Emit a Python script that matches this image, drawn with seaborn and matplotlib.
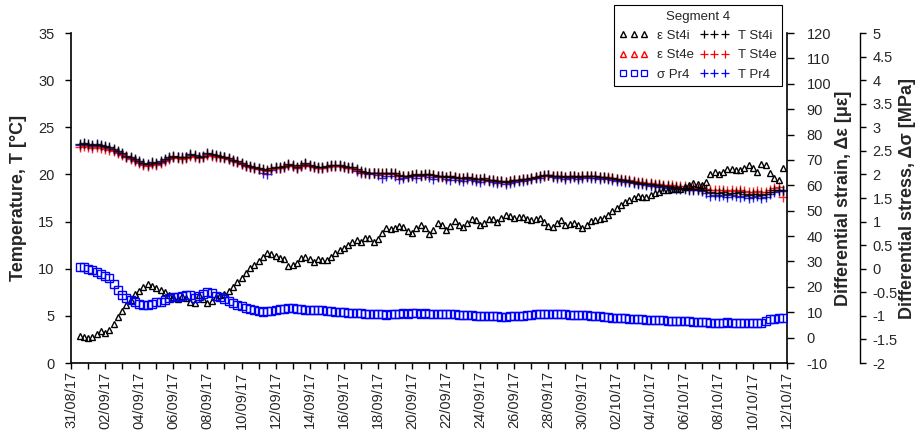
import matplotlib
matplotlib.use("Agg")
import matplotlib.pyplot as plt
import matplotlib.dates as mdates
from matplotlib.lines import Line2D
from matplotlib.ticker import FuncFormatter, FixedLocator, MultipleLocator
import pandas as pd
import seaborn as sns

###############################################################################
# data, one value every 6 h from 31/08/17 12:00

start = "2017-08-31 12:00"

# differential strain, ε St4i [με]
eps_st4i = [0.5, 0.2,
    -0.3, 0.3, 1.5, 2.5,
    2.0, 3.0, 5.5, 8.0,
    10.5, 12.8, 15.0, 17.0,
    18.5, 20.0, 21.3, 20.5,
    19.5, 18.8, 17.8, 16.8,
    16.0, 15.3, 16.5, 15.5,
    14.0, 13.5, 16.8, 15.2,
    13.5, 14.5, 16.1, 16.8,
    17.3, 18.5, 20.0, 21.8,
    23.5, 25.3, 27.5, 28.5,
    30.0, 31.8, 33.2, 32.8,
    32.0, 31.5, 30.8, 28.2,
    28.6, 29.3, 31.2, 31.9,
    31.0, 29.9, 30.9, 30.4,
    30.6, 31.9, 33.5, 34.5,
    35.3, 36.5, 37.8, 38.3,
    37.5, 39.1, 39.4, 37.8,
    38.8, 41.2, 43.2, 42.6,
    43.2, 43.9, 43.6, 42.0,
    41.1, 43.0, 44.3, 43.0,
    40.8, 42.5, 45.3, 44.5,
    42.4, 43.8, 45.8, 44.2,
    43.4, 45.0, 46.8, 46.2,
    44.5, 45.2, 46.6, 46.8,
    45.7, 47.2, 48.3, 48.0,
    47.0, 47.4, 47.5, 46.8,
    46.3, 46.8, 47.0, 45.5,
    44.0, 43.4, 45.2, 46.2,
    44.4, 44.6, 45.2, 44.2,
    43.2, 44.4, 46.0, 46.5,
    46.6, 47.2, 48.4, 50.0,
    51.2, 52.2, 53.3, 54.2,
    55.0, 55.6, 55.4, 55.5,
    56.0, 56.9, 57.4, 58.0,
    58.3, 58.4, 58.5, 58.7,
    59.2, 60.0, 60.8, 60.4,
    60.0, 61.5, 64.5, 65.2,
    64.4, 65.2, 66.5, 66.6,
    66.0, 65.9, 66.8, 68.0,
    66.8, 65.3, 68.3, 68.2,
    64.7, 62.7, 62.2, 66.7]

# differential stress, σ Pr4 [MPa]
sig_pr4 = [0.04, 0.03,
    0.00, -0.03, -0.06, -0.12,
    -0.15, -0.19, -0.32, -0.45,
    -0.55, -0.62, -0.67, -0.71,
    -0.74, -0.76, -0.77, -0.74,
    -0.71, -0.70, -0.66, -0.62,
    -0.60, -0.59, -0.58, -0.56,
    -0.55, -0.62, -0.58, -0.53,
    -0.49, -0.52, -0.57, -0.61,
    -0.65, -0.69, -0.73, -0.77,
    -0.80, -0.83, -0.86, -0.88,
    -0.90, -0.91, -0.90, -0.89,
    -0.88, -0.86, -0.85, -0.84,
    -0.84, -0.85, -0.86, -0.87,
    -0.88, -0.88, -0.87, -0.88,
    -0.89, -0.90, -0.91, -0.91,
    -0.92, -0.93, -0.93, -0.94,
    -0.94, -0.95, -0.95, -0.95,
    -0.95, -0.96, -0.98, -0.97,
    -0.96, -0.95, -0.94, -0.96,
    -0.93, -0.94, -0.95, -0.93,
    -0.95, -0.95, -0.96, -0.95,
    -0.96, -0.97, -0.97, -0.98,
    -0.98, -0.99, -0.99, -1.00,
    -1.00, -1.00, -1.01, -1.01,
    -1.01, -1.02, -1.02, -1.01,
    -1.01, -1.00, -1.00, -0.99,
    -0.98, -0.97, -0.96, -0.95,
    -0.95, -0.96, -0.96, -0.97,
    -0.97, -0.98, -0.98, -0.98,
    -0.99, -0.99, -1.00, -1.00,
    -1.01, -1.02, -1.03, -1.04,
    -1.04, -1.05, -1.05, -1.06,
    -1.06, -1.07, -1.07, -1.08,
    -1.08, -1.09, -1.09, -1.09,
    -1.10, -1.10, -1.10, -1.11,
    -1.11, -1.11, -1.12, -1.13,
    -1.13, -1.14, -1.15, -1.15,
    -1.15, -1.15, -1.14, -1.15,
    -1.15, -1.16, -1.16, -1.16,
    -1.16, -1.16, -1.15, -1.10,
    -1.07, -1.06, -1.05, -1.05]

# temperature T St4i [°C]
t_st4i = [23.2, 23.3,
    23.2, 23.1, 23.2, 23.1,
    23.0, 22.9, 22.7, 22.5,
    22.3, 22.0, 21.8, 21.6,
    21.4, 21.2, 21.1, 21.3,
    21.2, 21.4, 21.6, 21.8,
    22.0, 21.9, 21.8, 21.9,
    22.2, 22.1, 21.9, 22.0,
    22.3, 22.2, 22.1, 22.0,
    21.9, 21.7, 21.5, 21.4,
    21.2, 21.0, 20.9, 20.8,
    20.7, 20.6, 20.5, 20.7,
    20.8, 20.8, 20.9, 21.1,
    21.0, 20.8, 21.0, 21.2,
    21.0, 20.9, 20.8, 20.8,
    20.9, 21.0, 21.0, 21.0,
    20.9, 20.8, 20.8, 20.6,
    20.4, 20.3, 20.2, 20.2,
    20.1, 20.1, 20.2, 20.2,
    20.1, 19.9, 19.8, 19.8,
    19.9, 20.0, 19.9, 20.0,
    20.0, 19.9, 19.8, 19.8,
    19.7, 19.8, 19.7, 19.6,
    19.6, 19.7, 19.6, 19.5,
    19.5, 19.6, 19.4, 19.4,
    19.3, 19.3, 19.2, 19.3,
    19.4, 19.4, 19.5, 19.5,
    19.6, 19.7, 19.8, 19.9,
    19.9, 19.8, 19.8, 19.8,
    19.7, 19.8, 19.8, 19.7,
    19.8, 19.8, 19.8, 19.8,
    19.7, 19.7, 19.6, 19.6,
    19.5, 19.4, 19.4, 19.3,
    19.2, 19.1, 19.1, 19.0,
    19.0, 18.9, 18.9, 18.8,
    18.8, 18.7, 18.7, 18.6,
    18.6, 18.5, 18.5, 18.5,
    18.4, 18.3, 18.1, 18.0,
    18.0, 18.1, 17.9, 18.0,
    18.0, 18.1, 17.9, 17.8,
    17.9, 17.9, 17.8, 17.9,
    18.1, 18.3, 18.4, 18.4]

# temperature T St4e [°C]
t_st4e = [22.9, 23.0,
    22.9, 22.8, 22.9, 22.8,
    22.7, 22.6, 22.5, 22.3,
    22.1, 21.8, 21.6, 21.4,
    21.2, 21.0, 20.9, 21.1,
    21.0, 21.2, 21.4, 21.6,
    21.8, 21.7, 21.6, 21.7,
    22.0, 21.9, 21.7, 21.8,
    22.1, 22.0, 21.9, 21.8,
    21.7, 21.6, 21.4, 21.3,
    21.1, 20.9, 20.8, 20.7,
    20.6, 20.5, 20.4, 20.6,
    20.7, 20.7, 20.8, 21.0,
    20.9, 20.7, 20.9, 21.1,
    20.9, 20.8, 20.7, 20.7,
    20.8, 20.9, 20.9, 20.9,
    20.8, 20.7, 20.7, 20.5,
    20.3, 20.2, 20.2, 20.1,
    20.1, 20.0, 20.1, 20.1,
    20.0, 19.8, 19.8, 19.8,
    19.9, 19.9, 19.9, 19.9,
    19.9, 19.9, 19.8, 19.7,
    19.7, 19.8, 19.7, 19.6,
    19.6, 19.6, 19.6, 19.5,
    19.5, 19.5, 19.4, 19.4,
    19.3, 19.3, 19.2, 19.3,
    19.4, 19.4, 19.5, 19.5,
    19.6, 19.7, 19.8, 19.8,
    19.9, 19.8, 19.8, 19.8,
    19.7, 19.8, 19.8, 19.7,
    19.8, 19.8, 19.8, 19.8,
    19.7, 19.7, 19.7, 19.6,
    19.5, 19.5, 19.4, 19.4,
    19.3, 19.2, 19.2, 19.1,
    19.1, 19.0, 19.0, 18.9,
    18.9, 18.9, 18.8, 18.8,
    18.8, 18.7, 18.7, 18.6,
    18.6, 18.5, 18.4, 18.3,
    18.3, 18.3, 18.2, 18.3,
    18.2, 18.3, 18.2, 18.1,
    18.1, 18.2, 18.1, 18.1,
    18.4, 18.6, 18.7, 17.6]

# temperature T Pr4 [°C]
t_pr4 = [23.1, 23.2,
    23.1, 23.0, 23.1, 23.0,
    22.9, 22.8, 22.6, 22.4,
    22.2, 21.9, 21.7, 21.5,
    21.3, 21.1, 21.0, 21.2,
    21.1, 21.3, 21.5, 21.7,
    21.9, 21.8, 21.7, 21.8,
    22.1, 22.0, 21.8, 21.9,
    22.2, 22.1, 22.0, 21.9,
    21.8, 21.6, 21.4, 21.3,
    21.1, 20.9, 20.8, 20.7,
    20.6, 20.2, 20.0, 20.5,
    20.7, 20.7, 20.8, 21.0,
    20.9, 20.7, 20.9, 21.1,
    20.9, 20.8, 20.7, 20.7,
    20.8, 20.9, 20.9, 20.9,
    20.8, 20.7, 20.7, 20.4,
    20.2, 20.1, 20.0, 20.1,
    19.9, 19.6, 19.8, 20.0,
    19.8, 19.5, 19.6, 19.7,
    19.8, 19.6, 19.8, 19.9,
    19.7, 19.5, 19.7, 19.8,
    19.5, 19.4, 19.6, 19.4,
    19.3, 19.5, 19.4, 19.3,
    19.2, 19.4, 19.3, 19.2,
    19.1, 19.2, 19.0, 19.1,
    19.2, 19.3, 19.3, 19.4,
    19.5, 19.6, 19.6, 19.8,
    19.9, 19.7, 19.6, 19.7,
    19.5, 19.6, 19.7, 19.5,
    19.6, 19.7, 19.6, 19.6,
    19.5, 19.6, 19.5, 19.4,
    19.3, 19.3, 19.2, 19.2,
    19.1, 19.0, 19.0, 18.9,
    18.8, 18.8, 18.7, 18.7,
    18.6, 18.6, 18.5, 18.5,
    18.5, 18.4, 18.4, 18.3,
    18.2, 18.0, 17.7, 17.8,
    17.7, 17.8, 17.6, 17.8,
    17.7, 17.6, 17.7, 17.5,
    17.6, 17.7, 17.5, 17.6,
    17.9, 18.1, 18.2, 18.2]

legend_title = "Segment 4"
date_ticks = pd.date_range("2017-08-31", "2017-10-12", freq="2D")

###############################################################################

sns.set_theme(style="ticks")
plt.rcParams["font.family"] = ["Liberation Sans", "DejaVu Sans"]
plt.rcParams["axes.unicode_minus"] = False

times = pd.date_range(start, periods=len(t_st4i), freq="6h")
df = pd.DataFrame({"time": times, "eps_st4i": eps_st4i, "sig_pr4": sig_pr4,
                   "t_st4i": t_st4i, "t_st4e": t_st4e, "t_pr4": t_pr4})

fig, ax = plt.subplots(figsize=(9.19, 4.36), dpi=100)
fig.subplots_adjust(left=0.0773, right=0.8564, bottom=0.1674, top=0.9243)
ax_eps = ax.twinx()
ax_sig = ax.twinx()

# seaborn paints marker edges white by default -> give the edge colour
for col, c in (("t_pr4", "#0000ff"), ("t_st4e", "#ff0000"),
               ("t_st4i", "#000000")):
    sns.lineplot(data=df, x="time", y=col, ax=ax, color=c, marker="+",
                 linestyle="none", markersize=7, markeredgewidth=1.0,
                 markeredgecolor=c, alpha=0.85,
                 errorbar=None, sort=False, legend=False)

sns.lineplot(data=df, x="time", y="eps_st4i", ax=ax_eps, color="black",
             marker="^", linestyle="none", markersize=4.6, markeredgewidth=1.0,
             markerfacecolor="none", markeredgecolor="black",
             errorbar=None, sort=False, legend=False)
sns.lineplot(data=df, x="time", y="sig_pr4", ax=ax_sig, color="#0000ff",
             marker="s", linestyle="none", markersize=5.5, markeredgewidth=1.0,
             markerfacecolor="none", markeredgecolor="#0000ff",
             errorbar=None, sort=False, legend=False)

# axes ranges / ticks
ax.set_xlim(pd.Timestamp("2017-08-31"), pd.Timestamp("2017-10-12"))
ax.set_ylim(0, 35)
ax.yaxis.set_major_locator(MultipleLocator(5))
ax_eps.set_ylim(-10, 120)
ax_eps.yaxis.set_major_locator(MultipleLocator(10))
ax_sig.set_ylim(-2, 5)
ax_sig.yaxis.set_major_locator(MultipleLocator(0.5))
ax_sig.yaxis.set_major_formatter(FuncFormatter(lambda v, p: f"{v:g}"))

ax.xaxis.set_major_locator(FixedLocator(mdates.date2num(date_ticks)))
ax.xaxis.set_minor_locator(mdates.DayLocator())
ax.xaxis.set_major_formatter(mdates.DateFormatter("%d/%m/%y"))
ax.tick_params(axis="x", which="both", rotation=90, direction="out",
               length=4, width=1, color="black", labelsize=10.5, pad=2)
ax.tick_params(axis="y", direction="out", length=4, width=1, color="black",
               labelsize=10.5, pad=8)

for a in (ax, ax_eps, ax_sig):
    a.grid(False)
    a.set_xlabel("")
    for s in a.spines.values():
        s.set_visible(False)
        s.set_color("black")
        s.set_linewidth(1.2)

ax.spines["left"].set_visible(True)
ax.spines["bottom"].set_visible(True)
ax_eps.spines["right"].set_visible(True)
ax_sig.spines["right"].set_visible(True)
ax_sig.spines["right"].set_position(("axes", 1.102))
ax_sig.spines["right"].set_linewidth(1.0)
ax_eps.tick_params(axis="y", direction="out", length=5, width=1,
                   color="black", labelsize=10.5, pad=9)
ax_sig.tick_params(axis="y", direction="out", length=4, width=1,
                   color="black", labelsize=10.5, pad=5)

ax.set_ylabel("Temperature, T [°C]", fontsize=13, fontweight="bold",
              labelpad=8)
ax_eps.set_ylabel("Differential strain, Δε [με]", fontsize=13,
                  fontweight="bold", labelpad=3)
ax_sig.set_ylabel("Differential stress, Δσ [MPa]", fontsize=13,
                  fontweight="bold", labelpad=1)

# legend
tri = dict(linestyle="none", marker="^", markersize=4, markeredgewidth=1.0,
           markerfacecolor="none")
crs = dict(linestyle="none", marker="+", markersize=6, markeredgewidth=0.9)
handles = [
    Line2D([], [], color="black", **tri),
    Line2D([], [], color="#ff0000", **tri),
    Line2D([], [], color="#0000ff", linestyle="none", marker="s",
           markersize=5, markeredgewidth=0.9, markerfacecolor="none"),
    Line2D([], [], color="black", **crs),
    Line2D([], [], color="#ff0000", **crs),
    Line2D([], [], color="#0000ff", **crs),
]
labels = ["ε St4i", "ε St4e", "σ Pr4", "T St4i", "T St4e", "T Pr4"]
leg = fig.legend(handles, labels, title=legend_title, ncol=2, numpoints=3,
                 loc="upper left", bbox_to_anchor=(0.668, 0.988),
                 fontsize=9.5, title_fontsize=9.5, frameon=True,
                 fancybox=False, edgecolor="black", framealpha=1,
                 borderpad=0.4, labelspacing=0.55, handlelength=2.2,
                 handletextpad=0.7, columnspacing=0.4, borderaxespad=0)
leg.get_frame().set_linewidth(0.8)

# underline legend title
fig.canvas.draw()
bb = leg.get_title().get_window_extent()
inv = fig.transFigure.inverted()
(x0, y0), (x1, _) = inv.transform([(bb.x0, bb.y0), (bb.x1, bb.y0)])
fig.add_artist(Line2D([x0, x1], [y0, y0], transform=fig.transFigure,
                      color="black", linewidth=0.8))

fig.savefig("out.png", dpi=100)
